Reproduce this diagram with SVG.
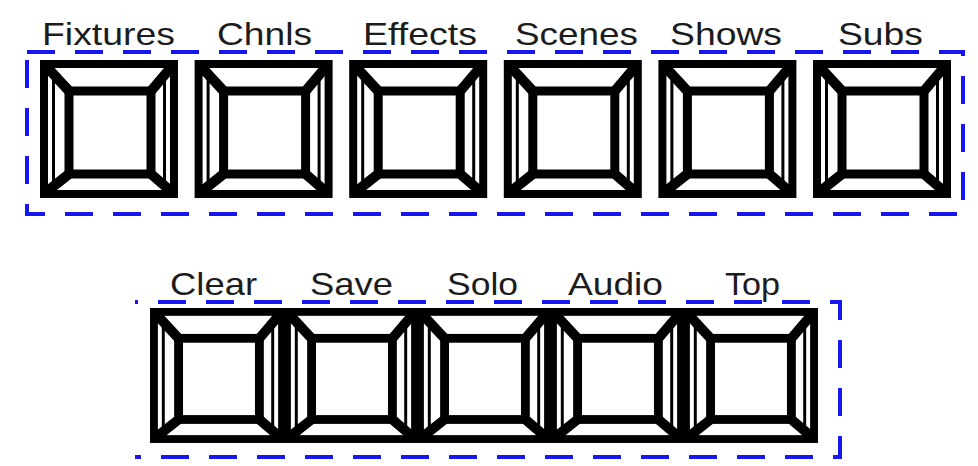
<svg xmlns="http://www.w3.org/2000/svg" xmlns:xlink="http://www.w3.org/1999/xlink" width="978" height="466" viewBox="0 0 978 466">
<style>
.lbl{font-family:"Liberation Sans",Arial,sans-serif;font-size:32px;fill:#1c1c1c;text-anchor:middle}
.frame{fill:none;stroke:#1616f2;stroke-width:4;stroke-dasharray:28 20}
.key *{fill:none;stroke:#000}
</style>
<defs>
<g id="key" class="key">
<rect x="4" y="4" width="130" height="130" stroke-width="8"/>
<rect x="29" y="31" width="82" height="83" stroke-width="9"/>
<path d="M5 5L29 31M133 5L111 31M5 133L29 114M133 133L111 114" stroke-width="10"/>
<path d="M13.5 15V126M124.5 16V125" stroke-width="3"/>
</g>
</defs>
<rect width="978" height="466" fill="#fff"/>
<g id="frames">
<rect class="frame" x="27" y="52" width="936" height="162"/>
<path class="frame" d="M135 302H840V457H135" style="stroke-dashoffset:25"/>
</g>
<g id="fixtures"><use xlink:href="#key" href="#key" x="40" y="60"/><text class="lbl" x="108.5" y="45" textLength="133" lengthAdjust="spacingAndGlyphs">Fixtures</text></g>
<g id="chnls"><use xlink:href="#key" href="#key" x="194.6" y="60"/><text class="lbl" x="264.5" y="45" textLength="95" lengthAdjust="spacingAndGlyphs">Chnls</text></g>
<g id="effects"><use xlink:href="#key" href="#key" x="349.2" y="60"/><text class="lbl" x="420" y="45" textLength="114" lengthAdjust="spacingAndGlyphs">Effects</text></g>
<g id="scenes"><use xlink:href="#key" href="#key" x="503.8" y="60"/><text class="lbl" x="576.5" y="45" textLength="123" lengthAdjust="spacingAndGlyphs">Scenes</text></g>
<g id="shows"><use xlink:href="#key" href="#key" x="658.4" y="60"/><text class="lbl" x="726" y="45" textLength="112" lengthAdjust="spacingAndGlyphs">Shows</text></g>
<g id="subs"><use xlink:href="#key" href="#key" x="813" y="60"/><text class="lbl" x="880.5" y="45" textLength="85" lengthAdjust="spacingAndGlyphs">Subs</text></g>
<g id="clear"><use xlink:href="#key" href="#key" transform="translate(150 308) scale(0.9855 0.978)"/><text class="lbl" x="213.5" y="295" textLength="87" lengthAdjust="spacingAndGlyphs">Clear</text></g>
<g id="save"><use xlink:href="#key" href="#key" transform="translate(283 308) scale(0.9855 0.978)"/><text class="lbl" x="351.5" y="295" textLength="83" lengthAdjust="spacingAndGlyphs">Save</text></g>
<g id="solo"><use xlink:href="#key" href="#key" transform="translate(416 308) scale(0.9855 0.978)"/><text class="lbl" x="482.5" y="295" textLength="71" lengthAdjust="spacingAndGlyphs">Solo</text></g>
<g id="audio"><use xlink:href="#key" href="#key" transform="translate(549 308) scale(0.9855 0.978)"/><text class="lbl" x="615.5" y="295" textLength="95" lengthAdjust="spacingAndGlyphs">Audio</text></g>
<g id="top"><use xlink:href="#key" href="#key" transform="translate(682 308) scale(0.9855 0.978)"/><text class="lbl" x="752.5" y="295" textLength="55" lengthAdjust="spacingAndGlyphs">Top</text></g>
</svg>
